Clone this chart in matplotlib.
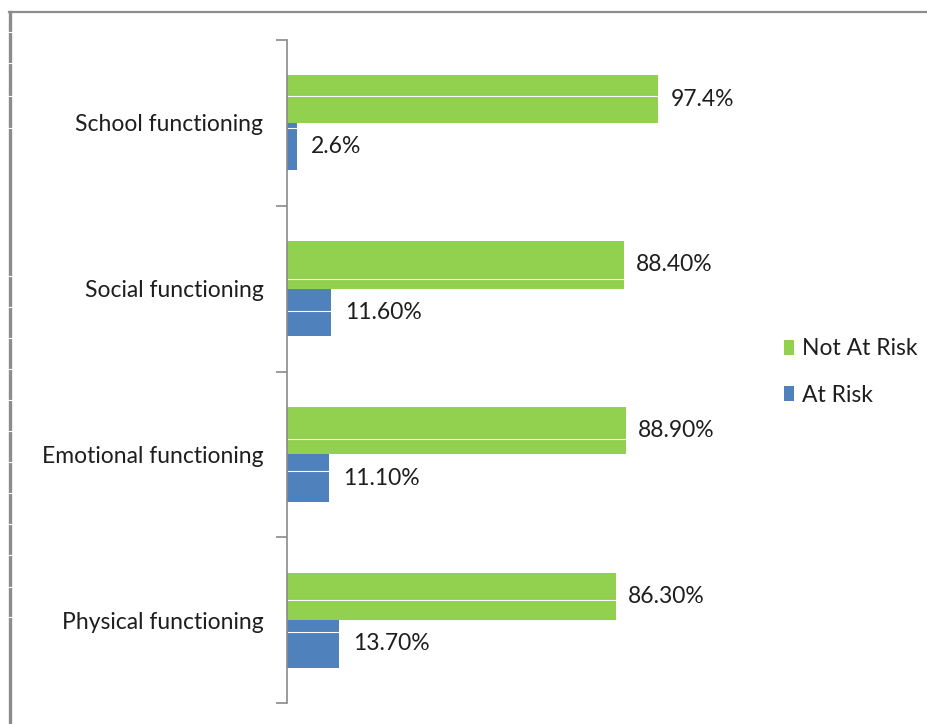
import matplotlib
matplotlib.use("Agg")
import matplotlib.pyplot as plt
from matplotlib.patches import Patch
from matplotlib.lines import Line2D
from matplotlib.transforms import blended_transform_factory
import numpy as np

plt.rcParams['font.family'] = ['Lato', 'DejaVu Sans']

# Data (top to bottom as displayed)
categories = ["School functioning", "Social functioning",
              "Emotional functioning", "Physical functioning"]
not_at_risk = [97.4, 88.4, 88.9, 86.3]
at_risk = [2.6, 11.6, 11.1, 13.7]
label_decimals = [1, 2, 2, 2]
series_names = ["Not At Risk", "At Risk"]

GREEN = "#92D050"
BLUE = "#4F81BD"
TEXT = "#1e1e1e"
AXIS_GRAY = "#8a8a8a"
FS = 16.5

W, H = 927, 724
fig = plt.figure(figsize=(W / 100, H / 100), dpi=100)
fig.patch.set_facecolor("white")

def fx(px):
    return px / W

def fy(py):
    return 1 - py / H

ax = fig.add_axes([fx(287), fy(703), fx(668) - fx(287), fy(40) - fy(703)])

n = len(categories)
ypos = np.arange(n)[::-1]  # first category at the top
h = 0.287

ax.barh(ypos + h / 2, not_at_risk, height=h, color=GREEN, edgecolor="none",
        label=series_names[0])
ax.barh(ypos - h / 2, at_risk, height=h, color=BLUE, edgecolor="none",
        label=series_names[1])

for y, g, b, d in zip(ypos, not_at_risk, at_risk, label_decimals):
    ax.annotate(f"{g:.{d}f}%", xy=(g, y + h / 2), xytext=(9, 0),
                textcoords="offset points", va="center", ha="left",
                fontsize=FS, color=TEXT, annotation_clip=False)
    ax.annotate(f"{b:.{d}f}%", xy=(b, y - h / 2), xytext=(10, 0),
                textcoords="offset points", va="center", ha="left",
                fontsize=FS, color=TEXT, annotation_clip=False)

ax.set_xlim(0, 100)
ax.set_ylim(-0.5, n - 0.5)

# Category boundaries as tick marks, names centred between them
ax.set_yticks(np.arange(-0.5, n, 1.0))
ax.set_yticklabels([])
ax.tick_params(axis="y", which="major", length=8, width=1.2, color=AXIS_GRAY,
               direction="out")
ax.set_yticks(ypos, minor=True)
ax.set_yticklabels(categories, minor=True)
ax.tick_params(axis="y", which="minor", length=0, pad=17, labelsize=FS,
               labelcolor=TEXT)
ax.set_xticks([])
for side in ["top", "right", "bottom"]:
    ax.spines[side].set_visible(False)
ax.spines["left"].set_color(AXIS_GRAY)
ax.spines["left"].set_linewidth(1.2)

# Legend
handles = [Patch(facecolor=GREEN, edgecolor="none"),
           Patch(facecolor=BLUE, edgecolor="none")]
fig.legend(handles, series_names, loc="center left",
           bbox_to_anchor=(fx(763), fy(372)), frameon=False,
           fontsize=FS, handlelength=0.45, handleheight=0.6,
           handletextpad=0.35, labelspacing=1.1, labelcolor=TEXT)

# Outer frame lines
fig.add_artist(Line2D([fx(9), 1], [fy(12), fy(12)], color="#8c8c8c", lw=1.6))
fig.add_artist(Line2D([fx(10), fx(10)], [fy(12), 0], color="#8c8c8c", lw=2.4))

# Thin light streaks on the frame edge and across the bars
frame_streaks = [32, 63, 96, 128, 276, 307, 338, 369, 400, 431, 462, 493,
                 524, 555, 587, 617]
for py in frame_streaks:
    fig.add_artist(Line2D([fx(5), fx(15)], [fy(py), fy(py)], color="white",
                          lw=0.8))
streak_tf = blended_transform_factory(ax.transData, fig.transFigure)
green_streaks = [96, 279, 439, 600]
blue_streaks = [128, 311, 471, 632]
for g, b, pg, pb in zip(not_at_risk, at_risk, green_streaks, blue_streaks):
    ax.plot([0.2, g], [fy(pg)] * 2, transform=streak_tf, color="white",
            lw=0.8, clip_on=False)
    ax.plot([0.2, b], [fy(pb)] * 2, transform=streak_tf, color="white",
            lw=0.8, clip_on=False)

fig.savefig("out.png", dpi=100, facecolor="white")
